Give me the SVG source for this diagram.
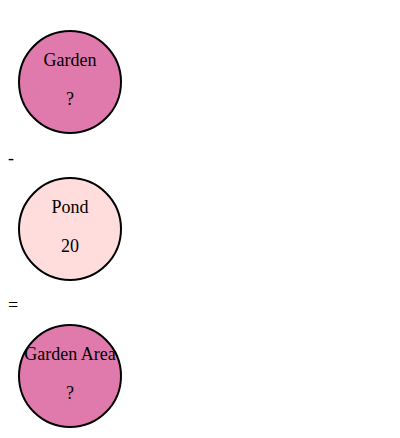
<svg xmlns="http://www.w3.org/2000/svg" width="400" height="438" viewBox="0 0 400 438">
<style>
.n{stroke:#000;stroke-width:2}
.a{fill:#E07AAC}
.b{fill:#FFDDDD}
text{font-family:'Liberation Serif','Times New Roman',serif;font-size:18px;fill:#000;text-anchor:middle}
.op{text-anchor:start}
</style>
<rect width="400" height="438" fill="#fff"/>
<g id="connectors"></g>
<g id="garden">
<circle class="n a" cx="70" cy="82" r="51"/>
<text x="70" y="66">Garden</text>
<text x="70" y="105">?</text>
</g>
<text class="op" x="8" y="164">-</text>
<g id="pond">
<circle class="n b" cx="70" cy="229" r="51"/>
<text x="70" y="213">Pond</text>
<text x="70" y="252">20</text>
</g>
<text class="op" x="8" y="311">=</text>
<g id="garden-area">
<circle class="n a" cx="70" cy="376" r="51"/>
<text x="70" y="360">Garden Area</text>
<text x="70" y="399">?</text>
</g>
</svg>
